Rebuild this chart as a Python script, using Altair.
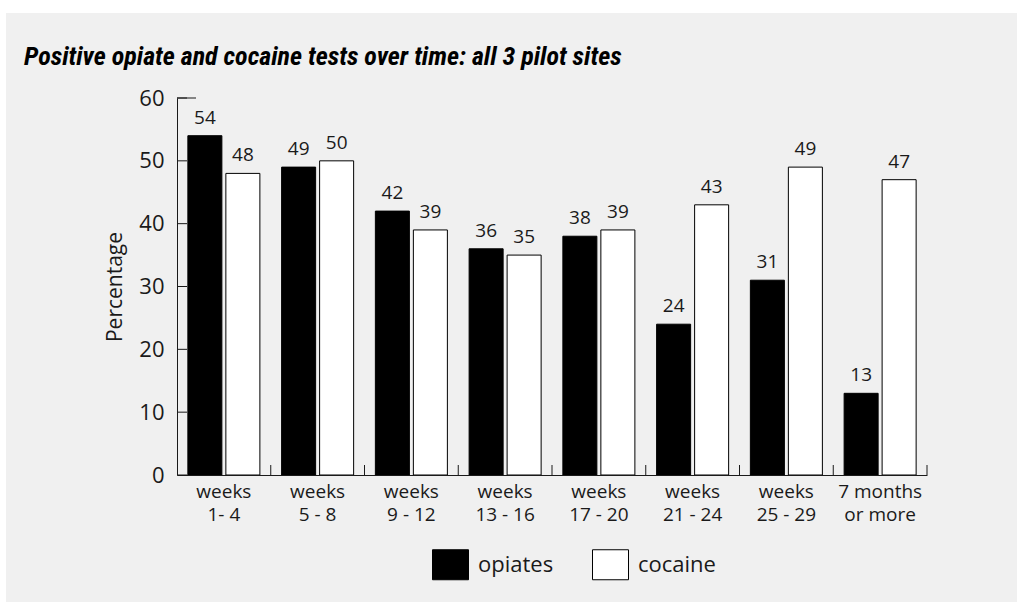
import altair as alt
import pandas as pd

# Test periods and the share of positive tests (%) for each substance
periods = [
    "weeks\n1- 4", "weeks\n5 - 8", "weeks\n9 - 12", "weeks\n13 - 16",
    "weeks\n17 - 20", "weeks\n21 - 24", "weeks\n25 - 29", "7 months\nor more",
]
substances = ["opiates", "cocaine"]
opiates = [54, 49, 42, 36, 38, 24, 31, 13]
cocaine = [48, 50, 39, 35, 39, 43, 49, 47]
y_ticks = [0, 10, 20, 30, 40, 50, 60]

rows = []
for p, o, c in zip(periods, opiates, cocaine):
    rows.append({"period": p, "substance": "opiates", "value": o})
    rows.append({"period": p, "substance": "cocaine", "value": c})
df = pd.DataFrame(rows)

FONT = "Open Sans"
INK = "#1a1a1a"
W, H = 750, 377

x_enc = alt.X(
    "period:N", sort=periods,
    scale=alt.Scale(paddingInner=0, paddingOuter=0),
    axis=alt.Axis(
        title=None, labelAngle=0, ticks=False, tickSize=0, domain=True,
        domainColor=INK, labelFont=FONT, labelFontSize=19, labelColor=INK,
        labelPadding=7, labelBaseline="top", labelLineHeight=23,
        labelExpr="split(datum.label, '\\n')", zindex=1,
    ),
)
x_off = alt.XOffset(
    "substance:N", sort=substances,
    scale=alt.Scale(paddingInner=0.105, paddingOuter=0.286),
)
y_enc = alt.Y(
    "value:Q",
    scale=alt.Scale(domain=[0, 60], nice=False),
    axis=alt.Axis(
        title="Percentage", values=y_ticks, ticks=False, tickSize=0,
        grid=False, domain=True, domainColor=INK, labelFont=FONT,
        labelFontSize=22, labelColor=INK, labelPadding=13,
        titleFont=FONT, titleFontSize=21, titleFontWeight="normal",
        titleColor=INK, titlePadding=13, zindex=1,
    ),
)

# Grey panel behind the chart
panel = alt.Chart(pd.DataFrame({"k": [0]})).mark_rect(color="#f0f0f0").encode(
    x=alt.value(-171), x2=alt.value(W + 90), y=alt.value(-85), y2=alt.value(H + 127)
)

bars = alt.Chart(df).mark_bar(stroke="black", strokeWidth=1).encode(
    x=x_enc,
    xOffset=x_off,
    y=y_enc,
    fill=alt.Fill(
        "substance:N",
        scale=alt.Scale(domain=substances, range=["black", "white"]),
        legend=alt.Legend(
            title=None, orient="none", legendX=258, legendY=451,
            direction="horizontal", padding=0,
            symbolType="M-1.2,-1L1.2,-1L1.2,1L-1.2,1Z", symbolSize=900,
            symbolStrokeColor="black", symbolStrokeWidth=1,
            symbolOpacity=1,
            labelFont=FONT, labelFontSize=22, labelColor=INK,
            labelOffset=12, columnPadding=36,
        ),
    ),
)

labels = alt.Chart(df).mark_text(
    baseline="bottom", dy=-8, font=FONT, fontSize=19, color=INK
).encode(
    x=alt.X("period:N", sort=periods),
    xOffset=alt.XOffset("substance:N", sort=substances),
    y="value:Q",
    text="value:Q",
)

# Inward-pointing tick marks on both axes
tick_df = pd.DataFrame({"tick": y_ticks})
y_tick_marks = alt.Chart(tick_df).mark_rule(color=INK, strokeWidth=1).encode(
    y="tick:Q", x=alt.value(0), x2=alt.value(10)
)
top_cap = alt.Chart(pd.DataFrame({"tick": [y_ticks[-1]]})).mark_rule(
    color=INK, strokeWidth=1
).encode(y="tick:Q", x=alt.value(0), x2=alt.value(19))

x_tick_marks = alt.Chart(pd.DataFrame({"period": periods})).mark_rule(
    color=INK, strokeWidth=1
).encode(
    x=alt.X("period:N", sort=periods, bandPosition=1),
    y=alt.value(H), y2=alt.value(H - 10),
)

chart = alt.layer(
    panel, bars, labels, y_tick_marks, top_cap, x_tick_marks
).properties(
    width=W,
    height=H,
    padding={"left": 177, "top": 98, "right": 90, "bottom": 127},
    autosize=alt.AutoSizeParams(type="none"),
    background="white",
    title=alt.TitleParams(
        text="Positive opiate and cocaine tests over time: all 3 pilot sites",
        anchor="start", frame="group", dx=-153, dy=78,
        font="Roboto Condensed, Liberation Sans Narrow",
        fontSize=26, fontStyle="italic", fontWeight="bold", color="black",
        baseline="alphabetic", offset=0,
    ),
).configure_view(stroke=None)

chart.save("out.html", embed_options={"renderer": "svg", "actions": False})
